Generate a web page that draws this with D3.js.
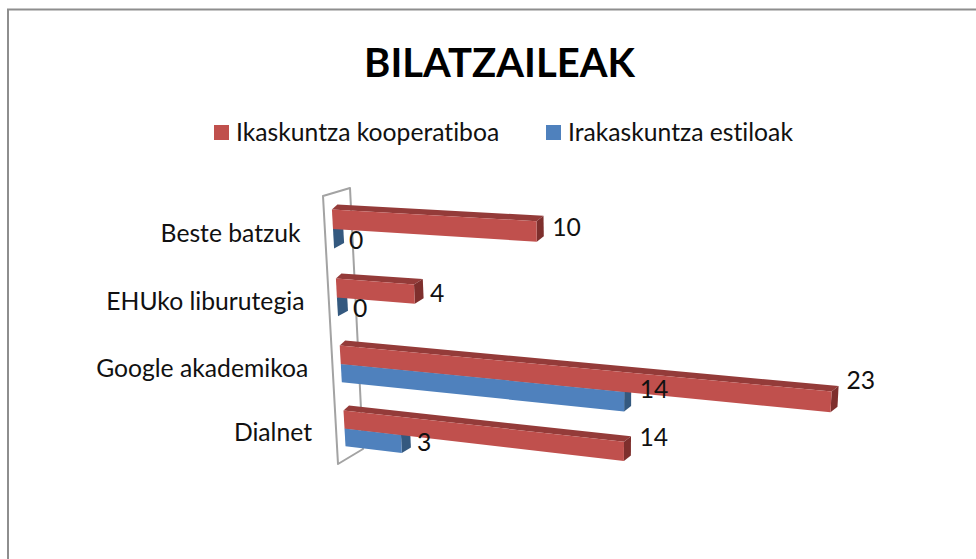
<!DOCTYPE html>
<html><head><meta charset="utf-8">
<script src="https://cdn.jsdelivr.net/npm/d3@7"></script>
<style>html,body{margin:0;padding:0;background:#fff}svg{display:block}text{font-family:Lato,sans-serif;fill:#111;font-variant-ligatures:none}</style>
</head><body><div id="c"></div>
<script>
const titleText = "BILATZAILEAK";
const categories = ["Dialnet","Google akademikoa","EHUko liburutegia","Beste batzuk"];
const seriesNames = ["Ikaskuntza kooperatiboa","Irakaskuntza estiloak"];
const ikaskuntza = [14,23,4,10];
const irakaskuntza = [3,14,0,0];

const W=976,H=559;
const svg=d3.select("#c").append("svg").attr("width",W).attr("height",H);
svg.append("path").attr("d",`M976,9.5H8V559`).attr("fill","none").attr("stroke","#8e8e8e").attr("stroke-width",2);

const uScale=d3.scaleLinear().domain([0,23]).range([0,1]);
const rowScale=d3.scalePoint().domain(categories).range([0,1]);
const corners=[[344.5,428.5],[827,484.5],[838,260.5],[333,229]];
const [[x0,y0],[x1,y1],[x2,y2],[x3,y3]]=corners;
const dx1=x1-x2,dx2=x3-x2,sx=x0-x1+x2-x3,dy1=y1-y2,dy2=y3-y2,sy=y0-y1+y2-y3;
const den=dx1*dy2-dx2*dy1,g=(sx*dy2-dx2*sy)/den,h=(dx1*sy-sx*dy1)/den;
const A=x1-x0+g*x1,B=x3-x0+h*x3,D=y1-y0+g*y1,E=y3-y0+h*y3;
const project=(v,s)=>{const u=uScale(v),w=g*u+h*s+1;return [(A*u+B*s+x0)/w,(D*u+E*s+y0)/w];};
const thick=0.28/3;
const depthX=d3.scaleLinear().domain([0,10]).range([10,7]).clamp(true);
const back=(p,v)=>[p[0]+depthX(v),p[1]-5.5];
const poly=pts=>"M"+pts.map(p=>p.map(n=>n.toFixed(1)).join(",")).join("L")+"Z";

// back wall outline
svg.append("path").attr("d","M323,196L350,188L363,449L338,464Z").attr("fill","none").attr("stroke","#a3a3a3").attr("stroke-width",2).attr("stroke-linejoin","round");

const palette=[{front:"#C0504D",top:"#943B39",side:"#7E2F2D"},{front:"#4F81BD",top:"#3A6190",side:"#34597F"}];
function bar(v,sLo,sHi,c){
  const a=project(0,sHi),b=project(v,sHi),d=project(v,sLo),e=project(0,sLo);
  svg.append("path").attr("d",poly([a,[a[0]+5.5,a[1]-5],back(b,v),b])).attr("fill",c.top);
  svg.append("path").attr("d",poly([b,back(b,v),back(d,v),d])).attr("fill",c.side);
  if(v>0) svg.append("path").attr("d",poly([a,b,d,e])).attr("fill",c.front);
}
const labels=[];
categories.forEach((cat,i)=>{
  const s=rowScale(cat);
  [[irakaskuntza[i],s-thick,s,palette[1]],[ikaskuntza[i],s,s+thick,palette[0]]].forEach(([v,lo,hi,c])=>{
    bar(v,lo,hi,c);
    const e0=project(0,(lo+hi)/2),ev=project(v,(lo+hi)/2);
    labels.push({v,x:ev[0]+15.5,y:(e0[1]+ev[1])/2+2});
  });
  const lp=project(0,s);
  svg.append("text").attr("x",lp[0]-32.5).attr("y",lp[1]+4).attr("dy","0.35em").attr("text-anchor","end").attr("font-size",24.7).text(cat);
});
labels.forEach(l=>svg.append("text").attr("x",l.x).attr("y",l.y).attr("dy","0.35em").attr("font-size",24.7).text(l.v));

svg.append("text").attr("x",499.5).attr("y",76.5).attr("text-anchor","middle").attr("font-size",40).attr("font-weight",700).style("fill","#000").text(titleText);

const legendX=[214,546];
seriesNames.forEach((n,i)=>{
  svg.append("rect").attr("x",legendX[i]).attr("y",125).attr("width",15).attr("height",15).attr("fill",palette[i].front);
  svg.append("text").attr("x",legendX[i]+22).attr("y",141).attr("font-size",24.7).text(n);
});
</script></body></html>
